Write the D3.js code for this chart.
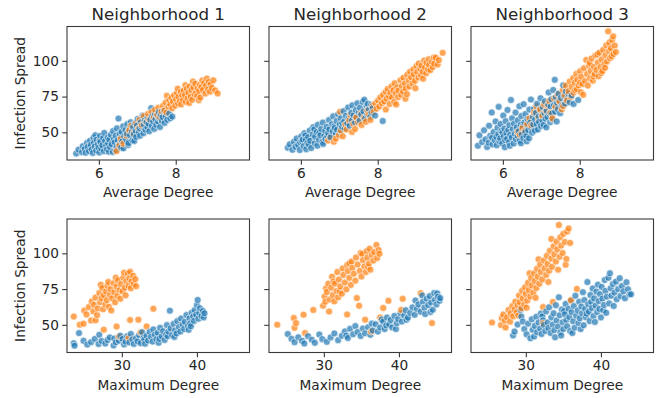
<!DOCTYPE html>
<html><head><meta charset="utf-8">
<script src="https://cdn.jsdelivr.net/npm/d3@7"></script>
<style>html,body{margin:0;padding:0;background:#fff;}svg{display:block;}</style>
</head><body>
<script>
const neighborhoods = ["Neighborhood 1", "Neighborhood 2", "Neighborhood 3"];
const xLabels = ["Average Degree", "Maximum Degree"];
const yLabel = "Infection Spread";
const yTicks = [50, 75, 100];
const avgTicks = [6, 8];
const maxTicks = [30, 40];
const avgDomain = [5.17, 9.92];
const maxDomain = [22.7, 47.0];
const spreadDomain = [30.65, 124];
const seriesColors = ["#1f77b4", "#ff7f0e"];

// Neighborhood 1 — average degree vs spread
const n1AvgBlue = [[5.41,35.2],[5.47,37.9],[5.56,36.1],[5.58,40.3],[5.63,38.4],[5.66,35.7],[5.69,42.6],[5.71,39.8],[5.74,36.9],[5.77,44.1],[5.79,41.2],[5.81,38.0],[5.84,35.6],[5.86,46.2],[5.87,42.9],[5.89,40.1],[5.93,37.3],[5.94,44.8],[5.97,41.7],[5.99,39.2],[6.01,35.9],[6.03,47.5],[6.04,43.3],[6.06,38.6],[6.09,41.0],[6.11,45.9],[6.13,36.8],[6.14,49.6],[6.16,43.8],[6.19,40.7],[6.21,38.1],[6.23,46.4],[6.24,42.2],[6.27,44.9],[6.29,39.5],[6.31,48.3],[6.33,41.8],[6.36,36.3],[6.37,50.9],[6.39,45.2],[6.41,43.0],[6.44,47.7],[6.46,39.9],[6.47,52.8],[6.49,44.6],[6.51,59.6],[6.53,41.4],[6.54,48.9],[6.57,46.1],[6.59,50.4],[6.61,43.7],[6.63,54.2],[6.64,38.8],[6.66,47.3],[6.69,51.6],[6.71,45.0],[6.73,49.1],[6.74,55.8],[6.77,42.5],[6.79,52.3],[6.81,47.9],[6.83,57.1],[6.86,50.2],[6.87,44.4],[6.89,53.9],[6.91,48.6],[6.94,56.3],[6.96,51.1],[6.97,46.8],[6.99,54.7],[7.01,59.4],[7.04,50.0],[7.06,52.9],[7.07,47.6],[7.09,56.9],[7.11,54.1],[7.14,61.7],[7.16,49.4],[7.17,55.3],[7.19,58.2],[7.21,51.9],[7.24,57.0],[7.26,53.6],[7.27,60.3],[7.29,55.9],[7.31,50.7],[7.34,58.8],[7.36,66.9],[7.38,54.4],[7.39,61.2],[7.41,57.7],[7.44,52.4],[7.46,63.0],[7.47,59.1],[7.49,55.2],[7.51,61.8],[7.54,57.5],[7.56,64.2],[7.57,59.9],[7.59,53.7],[7.61,62.5],[7.64,58.1],[7.66,60.6],[7.69,64.9],[7.71,56.6],[7.74,61.4],[7.78,58.7],[7.83,63.1],[7.86,59.8],[7.91,61.0],[6.26,36.4],[6.43,37.6],[6.58,39.3],[6.76,41.1],[6.92,44.0],[6.02,44.3],[5.91,48.0]];
const n1AvgOrange = [[6.46,36.9],[6.53,40.6],[6.57,45.3],[6.64,42.1],[6.72,47.8],[6.79,51.2],[6.84,54.7],[6.90,49.3],[6.97,56.4],[7.03,52.6],[7.06,58.8],[7.12,55.1],[7.17,61.3],[7.23,57.4],[7.28,62.9],[7.31,59.2],[7.37,64.1],[7.43,60.7],[7.46,65.8],[7.52,62.3],[7.55,67.2],[7.59,60.4],[7.63,64.6],[7.67,68.5],[7.71,65.3],[7.74,70.9],[7.76,63.8],[7.77,75.6],[7.81,67.9],[7.83,72.4],[7.86,69.6],[7.89,74.2],[7.91,66.8],[7.93,71.5],[7.96,75.9],[7.99,68.7],[8.01,73.1],[8.03,77.4],[8.06,70.2],[8.07,74.8],[8.11,71.9],[8.13,78.3],[8.14,69.5],[8.17,75.7],[8.19,72.6],[8.21,79.2],[8.24,76.1],[8.26,71.3],[8.29,80.4],[8.31,73.8],[8.33,77.6],[8.36,82.1],[8.39,74.9],[8.41,79.5],[8.43,72.8],[8.46,81.3],[8.49,76.6],[8.51,84.0],[8.53,78.2],[8.56,75.4],[8.57,80.8],[8.61,78.9],[8.63,83.2],[8.64,74.3],[8.67,81.6],[8.69,86.2],[8.71,79.7],[8.74,84.5],[8.77,77.1],[8.79,82.7],[8.81,87.6],[8.84,80.1],[8.86,85.3],[8.89,78.4],[8.91,83.6],[8.94,81.0],[8.98,86.4],[9.03,79.3],[9.09,77.2],[8.45,85.5],[8.25,83.0],[8.05,80.5],[8.60,72.5],[8.35,70.5]];

// Neighborhood 2 — average degree vs spread
const n2AvgBlue = [[5.66,39.3],[5.71,41.6],[5.78,37.8],[5.82,43.4],[5.86,39.9],[5.89,45.7],[5.93,41.1],[5.97,37.6],[6.01,47.2],[6.03,43.6],[6.07,40.3],[6.09,49.4],[6.13,44.8],[6.14,38.2],[6.17,42.5],[6.19,46.6],[6.23,51.3],[6.24,44.1],[6.27,39.0],[6.31,48.5],[6.32,53.6],[6.36,42.4],[6.37,46.9],[6.41,50.2],[6.43,40.6],[6.44,55.3],[6.47,44.7],[6.51,48.0],[6.53,52.4],[6.56,43.2],[6.57,56.8],[6.61,47.5],[6.63,51.0],[6.64,45.4],[6.67,53.9],[6.71,49.3],[6.73,58.6],[6.74,52.1],[6.77,46.6],[6.81,55.7],[6.83,50.6],[6.84,61.2],[6.87,54.3],[6.91,48.8],[6.93,57.9],[6.94,51.8],[6.97,62.6],[7.01,55.5],[7.03,50.7],[7.04,59.7],[7.07,53.8],[7.11,64.8],[7.13,57.6],[7.14,52.7],[7.17,61.5],[7.21,56.3],[7.23,67.4],[7.24,59.5],[7.27,54.6],[7.31,63.7],[7.33,58.4],[7.34,68.9],[7.37,61.8],[7.41,56.9],[7.43,65.6],[7.44,60.2],[7.47,70.3],[7.51,63.9],[7.53,58.2],[7.54,67.1],[7.57,62.4],[7.61,71.2],[7.63,64.7],[7.65,72.8],[7.67,59.6],[7.71,68.3],[7.73,62.7],[7.74,70.0],[7.77,65.8],[7.81,60.9],[7.83,69.2],[7.84,64.0],[7.87,66.9],[7.93,61.7],[8.13,57.9],[6.05,44.9],[6.21,41.4],[6.48,49.7],[6.69,47.1],[6.88,52.9],[7.08,56.5],[6.58,41.9],[6.12,47.8],[5.98,43.0],[6.35,52.1]];
const n2AvgOrange = [[6.71,44.2],[6.76,46.3],[6.86,43.4],[6.91,45.6],[6.99,48.1],[7.04,51.3],[7.02,64.4],[7.09,47.2],[7.16,55.4],[7.19,52.0],[7.26,58.3],[7.29,62.1],[7.33,50.2],[7.36,56.0],[7.41,52.3],[7.44,60.4],[7.49,57.1],[7.56,63.3],[7.58,55.2],[7.64,60.1],[7.69,57.4],[7.73,65.2],[7.77,62.5],[7.81,58.6],[7.86,68.4],[7.89,64.3],[7.94,70.2],[7.97,66.6],[8.01,72.3],[8.04,68.1],[8.07,74.5],[8.11,70.4],[8.14,76.2],[8.17,71.6],[8.21,78.4],[8.23,73.5],[8.26,80.3],[8.29,75.1],[8.31,69.8],[8.33,77.6],[8.36,82.2],[8.37,74.3],[8.41,79.4],[8.43,71.2],[8.44,84.3],[8.47,77.2],[8.51,81.5],[8.53,74.6],[8.54,79.1],[8.59,86.4],[8.61,76.3],[8.63,82.4],[8.66,78.5],[8.67,88.2],[8.71,84.1],[8.73,80.6],[8.76,76.7],[8.77,90.3],[8.81,86.5],[8.83,82.0],[8.84,92.4],[8.87,88.6],[8.91,84.2],[8.93,94.1],[8.94,90.5],[8.97,86.1],[9.01,96.3],[9.03,92.2],[9.06,88.4],[9.07,98.1],[9.11,94.5],[9.13,90.0],[9.14,96.6],[9.17,92.3],[9.21,100.2],[9.23,95.4],[9.26,91.3],[9.27,98.5],[9.31,94.0],[9.33,101.1],[9.34,97.2],[9.37,93.5],[9.41,99.3],[9.43,95.6],[9.46,102.4],[9.47,98.0],[9.51,102.2],[9.56,97.4],[9.59,100.5],[9.69,105.6],[8.48,69.5],[8.72,73.5],[8.98,80.8],[9.18,87.5],[8.21,66.0]];

// Neighborhood 3 — average degree vs spread
const n3AvgBlue = [[5.35,40.6],[5.39,47.9],[5.46,43.2],[5.51,51.4],[5.55,45.1],[5.59,39.8],[5.63,42.7],[5.64,54.6],[5.67,47.6],[5.71,63.9],[5.73,41.5],[5.76,50.3],[5.79,44.4],[5.81,57.6],[5.83,46.8],[5.84,41.0],[5.86,53.2],[5.88,48.7],[5.89,67.8],[5.91,43.9],[5.93,45.8],[5.94,55.9],[5.96,50.9],[5.98,42.3],[6.01,61.7],[6.02,47.1],[6.04,52.6],[6.06,44.6],[6.07,57.8],[6.09,49.5],[6.11,45.6],[6.12,65.6],[6.14,51.7],[6.16,43.1],[6.17,54.9],[6.19,48.2],[6.21,72.6],[6.23,46.4],[6.24,59.8],[6.26,52.3],[6.28,42.2],[6.29,56.1],[6.31,49.0],[6.33,63.8],[6.34,45.3],[6.36,53.4],[6.38,47.7],[6.39,58.5],[6.41,50.8],[6.43,68.2],[6.44,44.1],[6.46,55.2],[6.48,61.4],[6.49,48.5],[6.51,53.9],[6.53,46.0],[6.54,69.7],[6.56,57.0],[6.58,50.1],[6.59,62.8],[6.61,47.4],[6.63,54.8],[6.64,59.4],[6.66,51.5],[6.68,45.9],[6.69,65.9],[6.71,56.7],[6.73,72.9],[6.74,53.0],[6.76,49.7],[6.78,60.8],[6.79,55.5],[6.81,66.4],[6.83,51.2],[6.84,58.9],[6.86,63.5],[6.88,55.8],[6.89,69.9],[6.91,52.0],[6.93,61.1],[6.94,57.3],[6.96,66.3],[6.98,73.8],[6.99,54.4],[7.01,62.2],[7.03,58.3],[7.04,67.6],[7.06,55.1],[7.08,63.6],[7.09,71.7],[7.11,59.6],[7.13,53.5],[7.14,65.0],[7.16,60.6],[7.18,69.4],[7.19,77.9],[7.21,62.9],[7.23,57.1],[7.24,67.9],[7.26,73.1],[7.28,63.2],[7.29,59.0],[7.31,79.6],[7.33,69.0],[7.35,86.7],[7.36,64.4],[7.38,74.6],[7.40,57.6],[7.41,70.6],[7.43,66.2],[7.45,77.0],[7.47,71.8],[7.49,63.4],[7.51,74.1],[7.54,68.8],[7.57,82.9],[7.59,75.2],[7.62,70.1],[7.64,78.6],[7.67,73.3],[7.71,76.8],[7.74,71.0],[7.79,75.8],[7.84,69.8],[7.96,72.6],[5.72,46.2],[6.18,40.6],[6.47,42.4],[6.62,43.7],[6.05,39.6],[5.99,49.8]];
const n3AvgOrange = [[6.38,50.3],[6.44,48.2],[6.51,52.9],[6.57,51.1],[6.63,55.8],[6.69,59.7],[6.74,54.9],[6.81,63.8],[6.87,68.2],[6.92,60.1],[6.97,65.9],[7.03,61.7],[7.07,69.8],[7.12,64.9],[7.16,68.6],[7.21,71.9],[7.24,63.7],[7.29,59.8],[7.34,73.9],[7.37,67.8],[7.43,76.7],[7.47,71.8],[7.53,66.1],[7.56,79.6],[7.57,68.3],[7.61,75.9],[7.64,82.7],[7.67,72.2],[7.71,78.8],[7.74,85.6],[7.77,74.8],[7.79,81.9],[7.83,87.9],[7.84,77.8],[7.87,84.7],[7.91,90.8],[7.93,80.2],[7.94,86.8],[7.97,82.9],[8.01,92.7],[8.03,78.1],[8.04,88.9],[8.07,83.8],[8.09,76.2],[8.11,94.8],[8.14,85.9],[8.17,100.6],[8.19,90.7],[8.21,82.7],[8.24,96.6],[8.27,87.8],[8.29,92.9],[8.31,101.7],[8.34,86.1],[8.37,95.8],[8.39,90.6],[8.41,103.8],[8.44,93.7],[8.47,98.8],[8.49,89.2],[8.51,105.7],[8.54,95.6],[8.57,100.9],[8.59,92.8],[8.61,107.6],[8.64,97.7],[8.67,103.9],[8.69,110.8],[8.71,99.6],[8.74,120.6],[8.76,106.8],[8.77,112.7],[8.79,101.9],[8.81,108.8],[8.84,114.6],[8.87,117.1],[8.88,104.8],[8.91,110.7],[8.94,106.2],[8.56,91.4],[8.26,98.5],[8.46,104.5],[8.66,95.1],[8.83,103.1],[8.01,84.6],[7.88,79.4],[8.36,89.0]];

// Neighborhood 1 — maximum degree vs spread
const n1MaxBlue = [[23.6,37.1],[23.7,35.4],[24.3,44.2],[24.9,38.8],[25.4,36.2],[25.9,37.9],[26.4,40.1],[26.9,36.6],[27.3,38.7],[27.8,36.9],[28.1,39.4],[28.4,41.2],[28.9,35.6],[29.2,37.8],[29.6,38.9],[29.8,42.3],[30.1,40.1],[30.3,36.3],[30.5,38.2],[30.7,42.0],[31.0,37.7],[31.2,43.6],[31.4,39.8],[31.6,36.6],[31.9,40.6],[32.1,38.4],[32.3,42.9],[32.5,37.2],[32.7,44.8],[32.9,40.9],[33.1,36.8],[33.3,42.4],[33.5,39.0],[33.7,45.1],[33.9,41.6],[34.1,38.3],[34.2,46.8],[34.4,43.2],[34.6,40.0],[34.8,44.5],[34.9,37.5],[35.1,47.9],[35.3,41.9],[35.5,45.6],[35.7,39.4],[35.9,43.1],[36.0,49.8],[36.2,45.2],[36.4,59.9],[36.5,47.6],[36.7,42.8],[36.9,50.7],[37.1,46.1],[37.3,44.0],[37.4,52.6],[37.6,48.5],[37.8,45.3],[37.9,54.4],[38.1,50.3],[38.3,47.1],[38.4,52.1],[38.6,56.8],[38.8,49.2],[39.0,54.5],[39.1,51.0],[39.3,58.5],[39.5,55.8],[39.6,52.7],[39.7,60.3],[39.9,57.0],[40.0,63.9],[40.1,67.4],[40.2,54.3],[40.3,58.4],[40.4,61.6],[40.6,56.2],[40.8,59.7],[40.9,55.2],[41.0,58.1],[37.0,41.5],[35.0,40.2],[38.9,46.5],[33.0,39.6],[29.0,40.4],[27.0,43.0],[36.1,42.0],[39.2,49.0]];
const n1MaxOrange = [[23.6,55.8],[24.4,50.1],[24.9,50.8],[25.3,57.2],[25.6,62.4],[25.9,53.1],[26.0,66.3],[26.2,59.4],[26.3,63.9],[26.5,69.1],[26.7,56.8],[26.8,61.5],[27.0,72.2],[27.1,65.7],[27.3,68.6],[27.4,75.8],[27.5,60.9],[27.6,70.7],[27.8,64.2],[27.9,73.4],[28.0,67.3],[28.1,77.3],[28.3,62.6],[28.4,71.0],[28.5,74.9],[28.6,60.1],[28.7,68.5],[28.9,79.1],[29.0,72.8],[29.1,65.8],[29.3,76.6],[29.4,70.1],[29.5,81.2],[29.7,74.2],[29.8,68.2],[29.9,78.5],[30.1,73.4],[30.2,83.1],[30.4,76.0],[30.5,70.6],[30.6,80.4],[30.8,85.9],[30.9,77.3],[31.0,82.6],[31.1,87.1],[31.2,75.6],[31.3,80.5],[31.5,84.3],[31.6,78.6],[31.8,81.9],[31.9,77.0],[30.3,86.5],[29.2,83.0],[28.2,80.0],[27.2,78.0],[26.5,53.2],[27.6,46.6],[29.3,48.8],[29.6,41.8],[30.9,40.7],[31.1,53.4],[32.2,53.6],[33.3,48.9],[34.2,61.2],[32.5,44.8],[25.0,60.0]];

// Neighborhood 2 — maximum degree vs spread
const n2MaxBlue = [[25.2,43.6],[25.7,40.2],[26.1,37.9],[26.6,41.3],[27.1,38.8],[27.4,36.9],[27.9,42.1],[28.4,39.6],[28.8,37.4],[29.4,43.2],[29.8,40.0],[30.4,38.1],[30.9,41.2],[31.4,44.0],[31.9,39.3],[32.4,42.3],[32.8,45.4],[33.2,40.8],[33.5,47.2],[33.9,43.4],[34.2,49.1],[34.5,45.0],[34.9,42.2],[35.2,47.4],[35.5,44.1],[35.9,48.3],[36.2,43.0],[36.5,46.1],[36.9,50.4],[37.2,45.3],[37.5,48.2],[37.9,52.3],[38.1,47.0],[38.4,55.1],[38.7,50.3],[38.9,53.4],[39.1,48.1],[39.4,56.2],[39.7,51.1],[39.9,54.0],[40.2,58.1],[40.4,52.3],[40.7,56.4],[40.9,60.2],[41.2,55.0],[41.5,58.3],[41.8,62.2],[42.1,57.0],[42.4,61.1],[42.6,64.3],[42.9,59.1],[43.2,66.2],[43.4,62.0],[43.7,68.3],[43.9,63.8],[44.1,70.1],[44.3,65.7],[44.5,60.5],[44.7,72.2],[44.8,67.5],[45.0,64.3],[45.2,69.6],[45.4,66.8],[45.5,68.7],[43.5,57.5],[44.2,59.0],[41.0,53.5],[39.6,47.0],[38.3,49.6],[42.2,67.0],[45.1,72.0],[43.1,70.5],[36.4,50.9],[37.7,53.7],[33.0,42.4]];
const n2MaxOrange = [[23.8,50.1],[26.0,54.8],[26.1,47.9],[26.3,51.2],[27.3,57.1],[27.5,44.2],[28.6,60.4],[29.9,63.4],[30.1,69.8],[30.2,66.2],[30.4,72.9],[30.6,78.8],[30.7,59.3],[30.8,67.7],[31.0,75.9],[31.1,83.6],[31.2,70.8],[31.4,66.4],[31.5,78.9],[31.7,73.7],[31.8,86.9],[31.9,69.2],[32.0,81.7],[32.2,76.8],[32.4,71.8],[32.5,89.3],[32.6,84.9],[32.8,79.6],[33.0,74.8],[33.1,57.2],[33.1,91.8],[33.2,87.6],[33.4,82.8],[33.6,77.9],[33.7,94.2],[33.8,89.8],[34.0,85.7],[34.2,80.9],[34.3,97.1],[34.4,68.7],[34.5,92.1],[34.7,63.3],[34.8,87.7],[35.0,83.8],[35.1,99.6],[35.2,95.2],[35.4,90.8],[35.5,53.6],[35.6,86.9],[35.7,101.5],[35.8,97.0],[36.0,92.8],[36.1,103.2],[36.2,88.6],[36.3,45.3],[36.4,98.8],[36.6,94.9],[36.7,100.9],[37.0,105.9],[37.1,96.8],[37.3,102.3],[37.4,99.7],[37.5,55.1],[37.9,61.8],[38.6,66.8],[40.3,60.4],[40.5,68.2],[42.9,72.1],[44.4,51.2],[32.1,73.5],[33.4,93.0],[34.9,100.3],[35.9,90.5],[31.3,80.3],[30.3,75.6]];

// Neighborhood 3 — maximum degree vs spread
const n3MaxBlue = [[28.3,42.6],[28.5,45.3],[28.9,50.2],[29.3,60.4],[29.4,55.8],[29.6,52.3],[29.8,47.1],[30.1,43.4],[30.3,50.8],[30.6,40.6],[30.8,53.9],[30.9,46.5],[31.1,41.8],[31.2,49.3],[31.4,55.6],[31.5,44.8],[31.7,51.7],[31.9,47.4],[32.0,57.9],[32.1,43.6],[32.3,53.1],[32.4,49.9],[32.6,45.7],[32.7,59.4],[32.9,51.6],[33.0,47.8],[33.1,62.3],[33.3,44.2],[33.4,55.2],[33.6,50.2],[33.7,58.1],[33.8,46.3],[34.0,63.7],[34.1,53.0],[34.3,48.9],[34.4,69.2],[34.5,56.7],[34.6,44.9],[34.8,60.8],[34.9,51.8],[35.0,47.1],[35.2,57.4],[35.3,64.6],[35.4,53.3],[35.5,49.0],[35.7,61.2],[35.8,55.5],[35.9,45.6],[36.0,66.9],[36.1,58.9],[36.3,52.5],[36.4,63.1],[36.5,48.0],[36.6,70.3],[36.7,56.4],[36.9,60.0],[37.0,51.2],[37.1,66.1],[37.2,54.6],[37.4,62.7],[37.5,58.0],[37.6,72.8],[37.7,49.7],[37.8,67.3],[37.9,61.0],[38.0,55.3],[38.2,79.9],[38.3,64.4],[38.4,59.2],[38.5,52.6],[38.6,70.9],[38.7,66.0],[38.8,61.8],[38.9,75.4],[39.0,56.1],[39.1,68.5],[39.3,63.5],[39.4,73.2],[39.5,58.9],[39.6,78.1],[39.7,66.6],[39.8,61.1],[39.9,71.4],[40.0,55.2],[40.1,76.5],[40.2,68.3],[40.4,63.9],[40.5,81.3],[40.6,73.7],[40.7,58.4],[40.8,69.7],[41.0,82.9],[41.1,65.0],[41.2,86.1],[41.3,75.5],[41.4,70.4],[41.6,78.6],[41.7,63.2],[41.8,72.6],[42.0,80.2],[42.1,67.8],[42.3,75.0],[42.5,82.6],[42.6,70.2],[42.8,77.1],[43.0,73.4],[43.2,68.6],[43.4,79.8],[43.6,74.9],[43.8,71.2],[44.0,71.4],[39.2,52.0],[36.2,44.2],[33.9,41.3],[37.3,47.0],[40.3,60.2],[38.1,57.8],[35.1,59.7],[32.2,55.9],[34.7,42.5]];
const n3MaxOrange = [[25.5,51.6],[26.7,49.8],[26.8,54.7],[27.0,57.2],[27.2,52.8],[27.3,48.1],[27.5,55.3],[27.7,60.4],[27.9,52.2],[28.0,58.0],[28.2,63.1],[28.3,55.9],[28.5,60.7],[28.6,66.2],[28.8,58.8],[28.9,63.7],[29.1,70.5],[29.2,65.9],[29.4,61.6],[29.5,73.8],[29.6,68.4],[29.8,64.2],[29.9,76.3],[30.0,71.6],[30.2,67.0],[30.3,79.4],[30.4,74.3],[30.6,69.8],[30.7,82.8],[30.8,77.5],[31.0,72.6],[31.1,86.0],[31.2,80.6],[31.4,75.7],[31.5,89.2],[31.6,83.7],[31.8,78.8],[31.9,92.1],[32.0,86.9],[32.2,81.7],[32.3,62.4],[32.3,51.1],[32.4,95.0],[32.5,89.6],[32.7,84.8],[32.8,98.3],[32.9,92.5],[33.1,87.9],[33.2,101.8],[33.4,96.3],[33.5,90.6],[33.6,66.0],[33.7,104.9],[33.8,99.4],[34.0,94.2],[34.1,108.2],[34.2,102.7],[34.4,119.8],[34.5,97.6],[34.6,111.3],[34.7,105.4],[34.9,100.2],[35.0,113.6],[35.2,107.9],[35.4,96.1],[35.5,115.2],[35.7,117.4],[35.9,107.3],[36.0,67.2],[36.8,75.1],[29.0,56.5],[30.1,62.0],[31.3,68.9],[33.0,80.0],[34.3,88.6],[35.3,92.0],[31.7,95.8],[33.4,110.0],[30.5,86.0]];

const avgSeries = [[n1AvgBlue, n1AvgOrange], [n2AvgBlue, n2AvgOrange], [n3AvgBlue, n3AvgOrange]];
const maxSeries = [[n1MaxBlue, n1MaxOrange], [n2MaxBlue, n2MaxOrange], [n3MaxBlue, n3MaxOrange]];

const W = 669, H = 398;
const colLeft = [67, 269, 471];
const panelW = 182.5;
const rowTop = [26.5, 219];
const panelH = 133.5;
const font = "DejaVu Sans, sans-serif";
const ink = "#262626";
const spineCol = "#3a3a3a";

const svg = d3.select("body").append("svg").attr("width", W).attr("height", H)
  .style("font-family", font);

const yScale = r => d3.scaleLinear().domain(spreadDomain).range([rowTop[r] + panelH, rowTop[r]]);

[0, 1].forEach(r => {
  const y = yScale(r);
  const dom = r === 0 ? avgDomain : maxDomain;
  const ticks = r === 0 ? avgTicks : maxTicks;
  const series = r === 0 ? avgSeries : maxSeries;
  neighborhoods.forEach((name, c) => {
    const x = d3.scaleLinear().domain(dom).range([colLeft[c], colLeft[c] + panelW]);
    const g = svg.append("g");
    // mixed drawing order (sorted by x) so neither group sits entirely on top
    const pts = series[c][0].map(p => ({p, c: 0})).concat(series[c][1].map(p => ({p, c: 1})))
      .sort((a, b) => d3.ascending(a.p[0], b.p[0]));
    g.selectAll("circle").data(pts).join("circle")
      .attr("cx", d => x(d.p[0])).attr("cy", d => y(d.p[1])).attr("r", 3.5)
      .attr("fill", d => seriesColors[d.c]).attr("fill-opacity", 0.7)
      .attr("stroke", "#fff").attr("stroke-width", 0.6);
    g.append("rect").attr("x", colLeft[c]).attr("y", rowTop[r])
      .attr("width", panelW).attr("height", panelH)
      .attr("fill", "none").attr("stroke", spineCol).attr("stroke-width", 1.1);
    const xa = d3.axisBottom(x).tickValues(ticks).tickSize(4.8).tickPadding(3.3).tickFormat(d3.format("d"));
    const xg = svg.append("g").attr("transform", `translate(0,${rowTop[r] + panelH})`).call(xa);
    xg.select(".domain").remove();
    xg.selectAll("line").attr("stroke", spineCol).attr("stroke-width", 1.1);
    xg.selectAll("text").attr("font-size", 13.7).attr("font-family", font).attr("fill", ink);
    const ya = d3.axisLeft(y).tickValues(yTicks).tickSize(4.8).tickPadding(3.3)
      .tickFormat(c === 0 ? d3.format("d") : () => "");
    const yg = svg.append("g").attr("transform", `translate(${colLeft[c]},0)`).call(ya);
    yg.select(".domain").remove();
    yg.selectAll("line").attr("stroke", spineCol).attr("stroke-width", 1.1);
    yg.selectAll("text").attr("font-size", 13.7).attr("font-family", font).attr("fill", ink);
    svg.append("text").attr("x", colLeft[c] + panelW / 2).attr("y", rowTop[r] + panelH + 37)
      .attr("text-anchor", "middle").attr("font-size", 13.7).attr("fill", ink).text(xLabels[r]);
    if (r === 0) {
      svg.append("text").attr("x", colLeft[c] + panelW / 2).attr("y", 19.5)
        .attr("text-anchor", "middle").attr("font-size", 16.7).attr("fill", ink).text(name);
    }
    if (c === 0) {
      svg.append("text").attr("transform", `translate(25,${rowTop[r] + panelH / 2}) rotate(-90)`)
        .attr("text-anchor", "middle").attr("font-size", 13.7).attr("fill", ink).text(yLabel);
    }
  });
});
</script>
</body></html>
